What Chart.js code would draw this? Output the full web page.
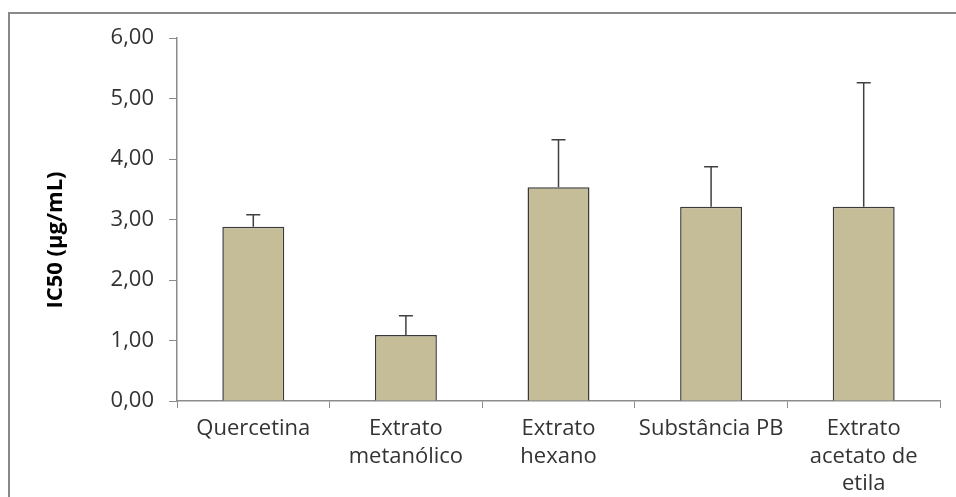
<!DOCTYPE html>
<html>
<head>
<meta charset="utf-8">
<script src="https://cdn.jsdelivr.net/npm/chart.js@4"></script>
<style>
    body { margin: 0; background: #fff; }
    #frame {
        position: absolute; left: 8px; top: 12px; width: 960px; height: 500px;
        border-left: 2px solid #898989; border-top: 2px solid #898989;
    }
    #wrap { position: absolute; left: 0; top: 0; width: 956px; height: 497px; }
</style>
</head>
<body>
<div id="frame"></div>
<div id="wrap"><canvas id="chart"></canvas></div>
<script>
const categories = [
    "Quercetina",
    ["Extrato", "metanólico"],
    ["Extrato", "hexano"],
    "Substância PB",
    ["Extrato", "acetato de", "etila"]
];
const ic50 = [2.88, 1.09, 3.535, 3.21, 3.21];
const ic50Sd = [0.20, 0.32, 0.785, 0.66, 2.05];
const yTitle = "IC50 (µg/mL)";

const FONT = "'Open Sans', sans-serif";

// upper error bars, drawn through the y scale
const errorBars = {
    id: "errorBars",
    afterDatasetsDraw(chart) {
        let ctx = chart.ctx;
        let y = chart.scales.y;
        let meta = chart.getDatasetMeta(0);
        ctx.save();
        ctx.strokeStyle = "#404040";
        ctx.lineWidth = 1.5;
        meta.data.forEach((bar, i) => {
            let top = y.getPixelForValue(ic50[i] + ic50Sd[i]);
            ctx.beginPath();
            ctx.moveTo(bar.x, bar.y);
            ctx.lineTo(bar.x, top);
            ctx.moveTo(bar.x - 7, top);
            ctx.lineTo(bar.x + 7, top);
            ctx.stroke();
        });
        ctx.restore();
    }
};

// rotated axis title, a bit below the scale middle like the original
const axisTitle = {
    id: "axisTitle",
    afterDraw(chart) {
        let ctx = chart.ctx;
        ctx.save();
        ctx.translate(56, 240);
        ctx.rotate(-Math.PI / 2);
        ctx.font = "bold 22px " + FONT;
        ctx.fillStyle = "#000";
        ctx.textAlign = "center";
        ctx.textBaseline = "middle";
        ctx.fillText(yTitle, 0, 0);
        ctx.restore();
    }
};

new Chart(document.getElementById("chart"), {
    type: "bar",
    data: {
        labels: categories,
        datasets: [{
            data: ic50,
            backgroundColor: "#c4bd97",
            borderColor: "#3a3a3a",
            borderWidth: 1.5,
            categoryPercentage: 1,
            barPercentage: 0.406
        }]
    },
    plugins: [errorBars, axisTitle],
    options: {
        responsive: true,
        maintainAspectRatio: false,
        animation: false,
        layout: { padding: { left: 0, right: 16, top: 38, bottom: 0 } },
        plugins: {
            legend: { display: false },
            tooltip: { enabled: false }
        },
        scales: {
            x: {
                afterFit: (s) => { s.height = 96; },
                grid: {
                    offset: true,
                    drawOnChartArea: false,
                    drawTicks: true,
                    tickLength: 7,
                    color: "#8c8c8c"
                },
                border: { color: "#8c8c8c", width: 1.5 },
                ticks: {
                    padding: 7,
                    color: "#333",
                    maxRotation: 0,
                    autoSkip: false,
                    font: { family: FONT, size: 22, lineHeight: 1.25 }
                }
            },
            y: {
                min: 0,
                max: 6,
                afterFit: (s) => { s.width = 177; },
                grid: {
                    drawOnChartArea: false,
                    drawTicks: true,
                    tickLength: 8,
                    color: "#8c8c8c"
                },
                border: { color: "#8c8c8c", width: 1.5 },
                ticks: {
                    stepSize: 1,
                    padding: 15,
                    color: "#333",
                    font: { family: FONT, size: 22 },
                    callback: (v) => v.toFixed(2).replace(".", ",")
                }
            }
        }
    }
});
</script>
</body>
</html>
